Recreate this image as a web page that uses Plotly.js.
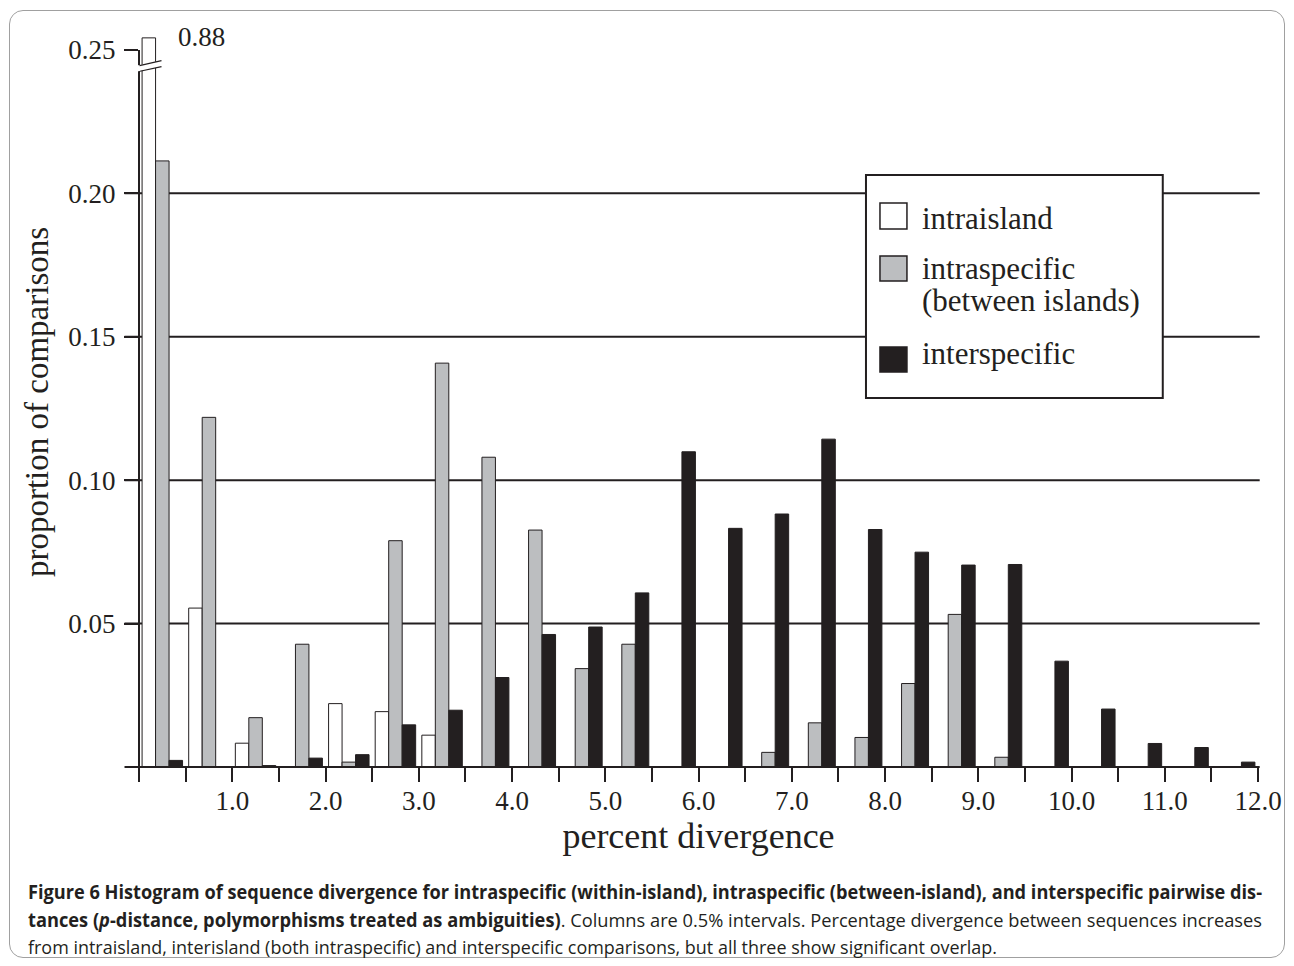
<!DOCTYPE html>
<html>
<head>
<meta charset="utf-8">
<script src="https://cdn.plot.ly/plotly-3.0.1.min.js"></script>
<style>
html,body{margin:0;padding:0;background:#fff;}
#frame{position:absolute;left:9px;top:10px;border:1.5px solid #a0a0a0;border-radius:14px;box-sizing:border-box;width:1276px;height:948px;}
#chart{position:absolute;left:0;top:0;width:1294px;height:966px;}
#caption{position:absolute;left:28px;top:879px;font-family:"Open Sans",sans-serif;font-size:19px;color:#231f20;}
.cl{white-space:nowrap;display:inline-block;transform-origin:0 50%;height:27.5px;line-height:27.5px;}
.row{height:27.5px;}
</style>
</head>
<body>
<div id="frame"></div>
<div id="chart"></div>
<div id="caption">
  <div class="row"><span class="cl" data-w="1234"><b>Figure 6 Histogram of sequence divergence for intraspecific (within-island), intraspecific (between-island), and interspecific pairwise dis-</b></span></div>
  <div class="row"><span class="cl" data-w="1234"><b>tances (<i>p</i>-distance, polymorphisms treated as ambiguities)</b>. Columns are 0.5% intervals. Percentage divergence between sequences increases</span></div>
  <div class="row"><span class="cl" data-w="969">from intraisland, interisland (both intraspecific) and interspecific comparisons, but all three show significant overlap.</span></div>
</div>
<script>
// ---- data ----
const binStarts = [0, 0.5, 1, 1.5, 2, 2.5, 3, 3.5, 4, 4.5, 5, 5.5, 6, 6.5, 7, 7.5, 8, 8.5, 9, 9.5, 10, 10.5, 11, 11.5];
const intraisland   = [0.88, 0.0554, 0.0083, 0, 0.0221, 0.0193, 0.0111, 0, 0, 0, 0, 0, 0, 0, 0, 0, 0, 0, 0, 0, 0, 0, 0, 0];
const intraspecific = [0.2113, 0.1219, 0.0172, 0.0428, 0.0017, 0.0789, 0.1408, 0.108, 0.0826, 0.0343, 0.0428, 0, 0, 0.0051, 0.0154, 0.0103, 0.0291, 0.0532, 0.0034, 0, 0, 0, 0, 0];
const interspecific = [0.0023, 0, 0.0005, 0.0031, 0.0043, 0.0147, 0.0198, 0.0312, 0.0462, 0.0488, 0.0607, 0.1099, 0.0832, 0.0882, 0.1143, 0.0828, 0.0749, 0.0704, 0.0706, 0.0369, 0.0202, 0.0082, 0.0068, 0.0017];
const seriesNames = ['intraisland', 'intraspecific', '(between islands)', 'interspecific'];
const xTickVals = [0, 0.5, 1, 1.5, 2, 2.5, 3, 3.5, 4, 4.5, 5, 5.5, 6, 6.5, 7, 7.5, 8, 8.5, 9, 9.5, 10, 10.5, 11, 11.5, 12];
const xTickText = ['', '', '1.0', '', '2.0', '', '3.0', '', '4.0', '', '5.0', '', '6.0', '', '7.0', '', '8.0', '', '9.0', '', '10.0', '', '11.0', '', '12.0'];
const yTickVals = [0.05, 0.10, 0.15, 0.20, 0.25];
const yTickText = ['0.05', '0.10', '0.15', '0.20', '0.25'];
const gridVals  = [0, 0.05, 0.10, 0.15, 0.20];
const axisBreak = 0.2542;   // where the broken bar is cut

// ---- style ----
const INK = '#231f20', GREY = '#bcbec0';
const FONT = 'Liberation Serif, Times New Roman, serif';
const binW = 0.5;
const yTop = 0.2545;
const centers = binStarts.map(s => s + binW / 2);

function barTrace(name, vals, fill) {
  return {
    type: 'bar', name: name, x: centers, y: vals.map(v => v === 0 ? null : Math.min(v, axisBreak)),
    customdata: vals, hovertemplate: '%{customdata}<extra>' + name + '</extra>',
    marker: {color: fill, line: {color: INK, width: 1}}, showlegend: false
  };
}
const data = [
  barTrace(seriesNames[0], intraisland, '#ffffff'),
  barTrace(seriesNames[1], intraspecific, GREY),
  barTrace(seriesNames[3], interspecific, INK)
];

const px2x = px => (px - 138.5) / 1119.8;   // pixel -> paper x
const py2y = py => (767 - py) / 730;        // pixel -> paper y
const yP = v => v / yTop;                   // data y -> paper y

// plot area spans x 0..12; horizontal rules extend a tick-length to the left
const extL = px2x(124), extR = px2x(1260);
const shapes = [];
gridVals.forEach(v => shapes.push({type: 'line', xref: 'paper', x0: extL, x1: extR, yref: 'paper', y0: yP(v), y1: yP(v),
  layer: v === 0 ? 'above' : 'below', line: {color: INK, width: 2}}));
// y axis line (stops at 0.25)
shapes.push({type: 'line', xref: 'paper', x0: 0, x1: 0, yref: 'paper', y0: 0, y1: yP(0.25), line: {color: INK, width: 2}});
// axis break marker
const bx0 = px2x(136.5), bx1 = px2x(161.5);
shapes.push({type: 'path', xref: 'paper', yref: 'paper',
  path: `M ${bx0},${yP(0.24460)} L ${bx1},${yP(0.24635)} L ${bx1},${yP(0.24410)} L ${bx0},${yP(0.24250)} Z`,
  fillcolor: '#ffffff', line: {width: 0}});
shapes.push({type: 'line', xref: 'paper', yref: 'paper', x0: px2x(139), y0: yP(0.24452), x1: px2x(161), y1: yP(0.24627), line: {color: INK, width: 1.2}});
shapes.push({type: 'line', xref: 'paper', yref: 'paper', x0: px2x(139.5), y0: yP(0.24256), x1: px2x(161), y1: yP(0.24418), line: {color: INK, width: 1.2}});
// legend box
shapes.push({type: 'rect', xref: 'paper', yref: 'paper', x0: px2x(866), x1: px2x(1163), y0: py2y(398), y1: py2y(175), fillcolor: '#ffffff', line: {color: INK, width: 2}});
const swPx = [[203, 229], [256, 281], [347, 372]];
const swFill = ['#ffffff', GREY, INK];
swPx.forEach((s, i) => shapes.push({type: 'rect', xref: 'paper', yref: 'paper', x0: px2x(880), x1: px2x(907), y0: py2y(s[1]), y1: py2y(s[0]), fillcolor: swFill[i], line: {color: INK, width: 1.5}}));

const legFont = {family: FONT, size: 31, color: INK};
const legPx = [218, 268, 301, 353];
const annotations = seriesNames.map((t, i) => ({
  xref: 'paper', yref: 'paper', x: px2x(920), y: py2y(legPx[i]), xanchor: 'left', yanchor: 'middle',
  text: t, showarrow: false, font: legFont
}));
annotations.push({xref: 'x', yref: 'paper', x: 0.40, y: 1, xanchor: 'left', yanchor: 'middle',
  text: intraisland[0].toFixed(2), showarrow: false, font: {family: FONT, size: 27, color: INK}});

const layout = {
  width: 1294, height: 966,
  margin: {l: 138.5, r: 35.7, t: 37, b: 199, pad: 0},
  paper_bgcolor: 'rgba(0,0,0,0)', plot_bgcolor: 'rgba(0,0,0,0)',
  font: {family: FONT, color: INK},
  barmode: 'group', bargap: 0.132, bargroupgap: 0,
  xaxis: {
    range: [0, 12], tickmode: 'array', tickvals: xTickVals, ticktext: xTickText,
    ticks: 'outside', ticklen: 14, tickwidth: 2, tickcolor: INK, ticklabelstandoff: -4,
    showline: false, showgrid: false, zeroline: false,
    tickfont: {family: FONT, size: 27, color: INK},
    title: {text: 'percent divergence', font: {family: FONT, size: 36, color: INK}, standoff: 4}
  },
  yaxis: {
    range: [0, yTop],
    tickmode: 'array', tickvals: yTickVals, ticktext: yTickText,
    ticks: 'outside', ticklen: 14, tickwidth: 2, tickcolor: INK, ticklabelstandoff: 3,
    showline: false, showgrid: false, zeroline: false,
    tickfont: {family: FONT, size: 27, color: INK},
    title: {text: 'proportion of comparisons', font: {family: FONT, size: 33, color: INK}, standoff: 9}
  },
  shapes: shapes, annotations: annotations
};

Plotly.newPlot('chart', data, layout, {displayModeBar: false, staticPlot: true});

function fitCaption() {
  document.querySelectorAll('.cl').forEach(el => {
    el.style.transform = 'none';
    const w = el.getBoundingClientRect().width;
    const target = +el.dataset.w;
    el.style.transform = 'scaleX(' + (target / w) + ')';
  });
}
fitCaption();
if (document.fonts && document.fonts.ready) document.fonts.ready.then(fitCaption);
</script>
</body>
</html>
